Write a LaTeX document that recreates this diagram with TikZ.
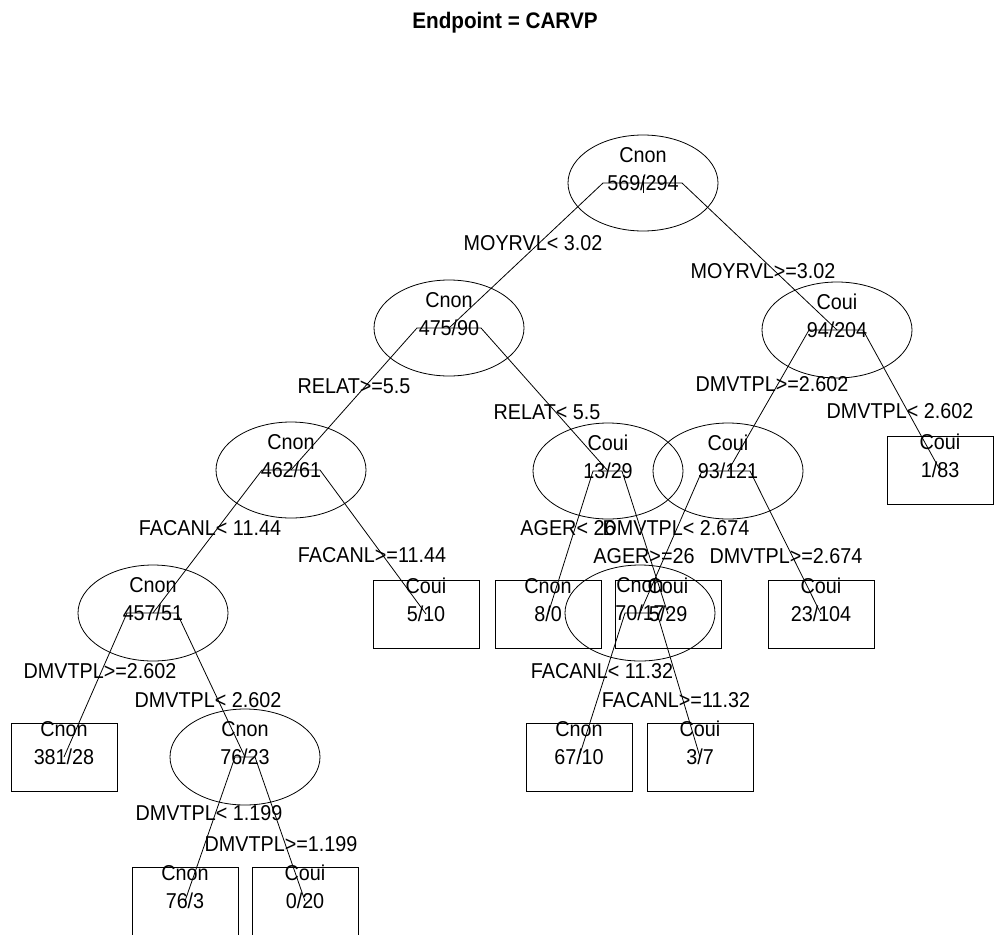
\documentclass[tikz,border=0pt]{standalone}
\usepackage{fontspec}
\setmainfont{Liberation Sans}[FakeStretch=0.92]
\usetikzlibrary{shapes.geometric}
% tree node: name, shape style, x, y, class label, counts
\newcommand\treenode[6]{%
  \node[#2] (#1) at (#3,#4) {};
  \node[txt] (#1c) at ([yshift=28pt]#1.center) {#5};
  \node[txt] (#1n) at (#1.center) {#6};
}
% split bar of a parent and its two branches
\newcommand\splitbars[5]{%
  \draw (#4.center) -- ([xshift=-#2pt]#1.center) -- ([xshift=#3pt]#1.center) -- (#5.center);
}
\begin{document}
\begin{tikzpicture}[x=1pt,y=-1pt,line width=0.8pt,
  splitnode/.style={draw,ellipse,minimum width=150pt,minimum height=96pt,inner sep=0pt},
  leafnode/.style={draw,rectangle,minimum width=106pt,minimum height=68pt,inner sep=0pt},
  txt/.style={inner sep=0pt,font=\fontsize{21.5}{24}\selectfont},
  cond/.style={inner sep=0pt,font=\fontsize{21.5}{24}\selectfont}]
\useasboundingbox (0,0) rectangle (994,935);

\node[inner sep=0pt,font=\fontsize{22.5}{26}\selectfont\bfseries] (title) at (505,23) {Endpoint = CARVP};

% nodes
\treenode{n1}{splitnode}{643}{183}{Cnon}{569/294}
\treenode{n2}{splitnode}{449}{328}{Cnon}{475/90}
\treenode{n3}{splitnode}{837}{330}{Coui}{94/204}
\treenode{n4}{splitnode}{291}{470}{Cnon}{462/61}
\treenode{n5}{splitnode}{608}{471}{Coui}{13/29}
\treenode{n6}{splitnode}{728}{471}{Coui}{93/121}
\treenode{n7}{leafnode}{940}{470}{Coui}{1/83}
\treenode{n8}{splitnode}{153}{613}{Cnon}{457/51}
\treenode{n9}{leafnode}{426}{614}{Coui}{5/10}
\treenode{n10}{leafnode}{548}{614}{Cnon}{8/0}
\treenode{n11}{splitnode}{640}{613}{Cnon}{70/17}
\treenode{n12}{leafnode}{668}{614}{Coui}{5/29}
\treenode{n13}{leafnode}{821}{614}{Coui}{23/104}
\treenode{n14}{leafnode}{64}{757}{Cnon}{381/28}
\treenode{n15}{splitnode}{245}{757}{Cnon}{76/23}
\treenode{n16}{leafnode}{579}{757}{Cnon}{67/10}
\treenode{n17}{leafnode}{700}{757}{Coui}{3/7}
\treenode{n18}{leafnode}{185}{901}{Cnon}{76/3}
\treenode{n19}{leafnode}{305}{901}{Coui}{0/20}

% branches
\draw ([yshift=7pt]n1.center) -- ([yshift=-10pt]n1.center);
\splitbars{n1}{40}{39}{n2}{n3}
\splitbars{n2}{32}{32}{n4}{n5}
\splitbars{n3}{28}{26}{n6}{n7}
\splitbars{n4}{29}{29}{n8}{n9}
\splitbars{n5}{15}{14}{n10}{n12}
\splitbars{n6}{26}{22}{n11}{n13}
\splitbars{n8}{26}{24}{n14}{n15}
\splitbars{n15}{10}{10}{n18}{n19}
\splitbars{n11}{15}{17}{n16}{n17}

% split conditions
\node[cond] (c1) at (533,243) {MOYRVL< 3.02};
\node[cond] (c2) at (763,271) {MOYRVL>=3.02};
\node[cond] (c3) at (354,386) {RELAT>=5.5};
\node[cond] (c4) at (547,412) {RELAT< 5.5};
\node[cond] (c5) at (772,384) {DMVTPL>=2.602};
\node[cond] (c6) at (900,411) {DMVTPL< 2.602};
\node[cond] (c7) at (210,528) {FACANL< 11.44};
\node[cond] (c8) at (372,555) {FACANL>=11.44};
\node[cond] (c9) at (568,528) {AGER< 26};
\node[cond] (c10) at (676,528) {DMVTPL< 2.674};
\node[cond] (c11) at (644,556) {AGER>=26};
\node[cond] (c12) at (786,556) {DMVTPL>=2.674};
\node[cond] (c13) at (100,671) {DMVTPL>=2.602};
\node[cond] (c14) at (208,700) {DMVTPL< 2.602};
\node[cond] (c15) at (602,671) {FACANL< 11.32};
\node[cond] (c16) at (676,700) {FACANL>=11.32};
\node[cond] (c17) at (209,813) {DMVTPL< 1.199};
\node[cond] (c18) at (281,844) {DMVTPL>=1.199};
\end{tikzpicture}
\end{document}
